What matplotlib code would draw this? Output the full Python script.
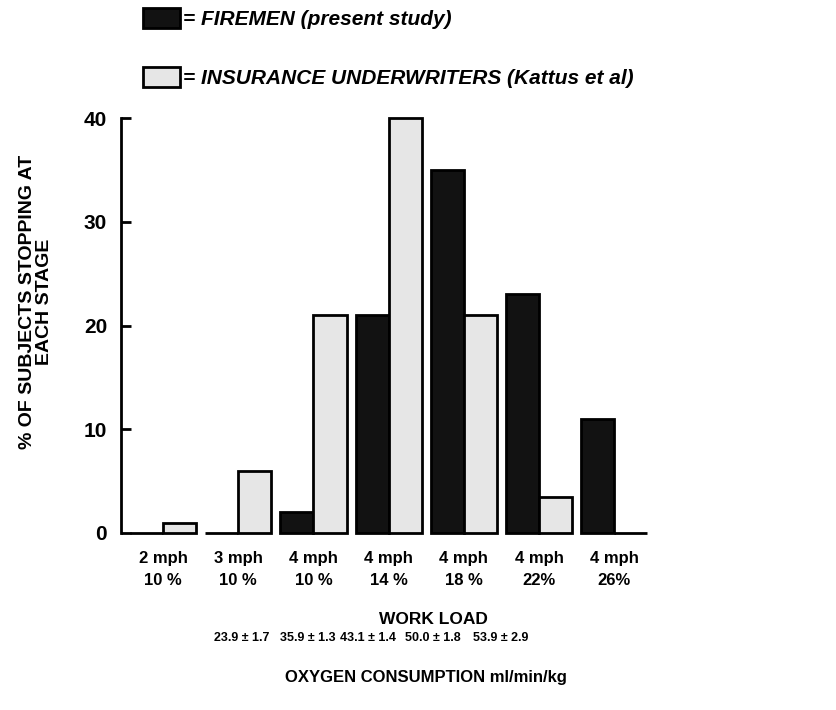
import numpy as np
import matplotlib
matplotlib.use("Agg")
import matplotlib.pyplot as plt

# data
speeds = ["2 mph", "3 mph", "4 mph", "4 mph", "4 mph", "4 mph", "4 mph"]
grades = ["10 %", "10 %", "10 %", "14 %", "18 %", "22%", "26%"]
firemen = [0, 0, 2, 21, 35, 23, 11]
underwriters = [1, 6, 21, 40, 21, 3.5, 0]
oxygen = ["23.9 ± 1.7", "35.9 ± 1.3", "43.1 ± 1.4", "50.0 ± 1.8", "53.9 ± 2.9"]

col_f = "#121212"
col_u = "#e6e6e6"
fam = ["Liberation Sans", "DejaVu Sans"]
plt.rcParams["font.family"] = fam

fig = plt.figure(figsize=(8.36, 7.10), dpi=100)
ax = fig.add_axes([121 / 836, 177 / 710, 715 / 836, 415 / 710])

x = np.arange(len(speeds))
w = 0.44
b1 = ax.bar(x - w / 2, firemen, w, color=col_f, edgecolor="black", linewidth=2, clip_on=False)
b2 = ax.bar(x + w / 2, underwriters, w, color=col_u, edgecolor="black", linewidth=2, clip_on=False)

ax.set_xlim(-0.559, 8.95)
ax.set_ylim(0, 40)
for s in ["top", "right", "bottom"]:
    ax.spines[s].set_visible(False)
ax.spines["left"].set_linewidth(2)
ax.set_yticks([0, 10, 20, 30, 40])
ax.tick_params(axis="y", direction="in", length=7, width=2, labelsize=15, pad=10)
for t in ax.get_yticklabels():
    t.set_fontweight("bold")
ax.set_xticks([])

ax.set_ylabel("% OF SUBJECTS STOPPING AT\nEACH STAGE", fontsize=14, fontweight="bold",
              linespacing=1.0)
ax.yaxis.set_label_coords(-0.095, 0.557)

# category labels under the groups
for i in x:
    ax.text(i, -1.7, speeds[i] + "\n" + grades[i], ha="center", va="top", fontsize=12,
            fontweight="bold", linespacing=1.6)

ax.text(3.59, -7.6, "WORK LOAD", ha="center", va="top", fontsize=12.5, fontweight="bold")

# oxygen consumption values, one per 4 mph stage
oxy_x = [1.04, 1.92, 2.72, 3.59, 4.49]
for xx, s in zip(oxy_x, oxygen):
    ax.text(xx, -9.5, s, ha="center", va="top", fontsize=9, fontweight="bold")
ax.text(3.49, -13.2, "OXYGEN CONSUMPTION ml/min/kg", ha="center", va="top",
        fontsize=12, fontweight="bold")

leg = fig.legend([b1, b2], ["= FIREMEN (present study)", "= INSURANCE UNDERWRITERS (Kattus et al)"],
                 loc="upper left", bbox_to_anchor=(143 / 836, 1 - 8 / 710), frameon=False,
                 borderpad=0, borderaxespad=0, handlelength=1.78, handleheight=1.1,
                 handletextpad=0.15, labelspacing=1.8,
                 prop={"size": 15, "weight": "bold", "style": "italic", "family": fam})

fig.savefig("out.png", dpi=100)
